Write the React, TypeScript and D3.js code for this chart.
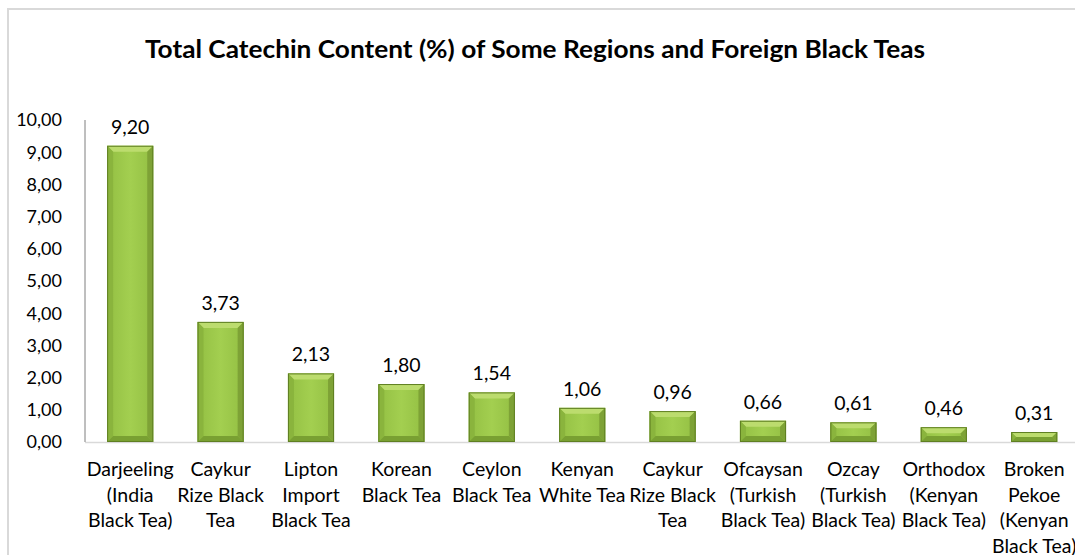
import React from "react";
import * as d3 from "d3";

const categories: string[][] = [
  ["Darjeeling", "(India", "Black Tea)"],
  ["Caykur", "Rize Black", "Tea"],
  ["Lipton", "Import", "Black Tea"],
  ["Korean", "Black Tea"],
  ["Ceylon", "Black Tea"],
  ["Kenyan", "White Tea"],
  ["Caykur", "Rize Black", "Tea"],
  ["Ofcaysan", "(Turkish", "Black Tea)"],
  ["Ozcay", "(Turkish", "Black Tea)"],
  ["Orthodox", "(Kenyan", "Black Tea)"],
  ["Broken", "Pekoe", "(Kenyan", "Black Tea)"],
];
const values: number[] = [9.2, 3.73, 2.13, 1.8, 1.54, 1.06, 0.96, 0.66, 0.61, 0.46, 0.31];
const yTicks: number[] = [0, 1, 2, 3, 4, 5, 6, 7, 8, 9, 10];
const title = "Total Catechin Content (%) of Some Regions and Foreign Black Teas";

const W = 1075;
const H = 555;
const FONT = "Lato, Calibri, 'Open Sans', sans-serif";
const fmt = (v: number) => v.toFixed(2).replace(".", ",");

export default function App() {
  const plotLeft = 85;
  const band = 90.4;
  const idx = values.map((_, i) => String(i));
  const x = d3.scaleBand<string>().domain(idx).range([plotLeft, plotLeft + band * values.length]).paddingInner(0.49).paddingOuter(0.245);
  const y = d3.scaleLinear().domain([0, 10]).range([442, 120]);
  const bw = x.bandwidth();

  return (
    <svg width={W} height={H} style={{ position: "absolute", left: 0, top: 0, background: "#fff" }}>
      <defs>
        <linearGradient id="barFill" x1="0" y1="0" x2="1" y2="0">
          <stop offset="0" stopColor="#93bf43" />
          <stop offset="0.5" stopColor="#a3cf50" />
          <stop offset="1" stopColor="#93bf43" />
        </linearGradient>
      </defs>
      {/* chart frame */}
      <line x1={8} y1={9} x2={W} y2={9} stroke="#d9d9d9" strokeWidth={2} />
      <line x1={8} y1={8} x2={8} y2={H} stroke="#d9d9d9" strokeWidth={2} />

      <text x={535} y={58} textAnchor="middle" fontFamily={FONT} fontWeight="bold" fontSize={25} fill="#000" textLength={780} lengthAdjust="spacingAndGlyphs">
        {title}
      </text>

      {/* y axis labels */}
      {yTicks.map((t) => (
        <text key={t} x={62} y={y(t)} dy="0.35em" textAnchor="end" fontFamily={FONT} fontSize={18} fill="#000">
          {fmt(t)}
        </text>
      ))}

      {/* x axis line */}
      <line x1={plotLeft} y1={y(0) + 0.5} x2={W} y2={y(0) + 0.5} stroke="#d9d9d9" strokeWidth={1.5} />

      {/* bars */}
      {values.map((v, i) => {
        const x0 = x(String(i))!;
        const x1 = x0 + bw;
        const y0 = y(v);
        const y1 = y(0);
        const h = y1 - y0;
        const b = Math.min(6, h / 2, bw / 2);
        return (
          <g key={i}>
            <rect x={x0} y={y0} width={bw} height={h} fill="url(#barFill)" />
            <polygon points={`${x0},${y0} ${x1},${y0} ${x1 - b},${y0 + b} ${x0 + b},${y0 + b}`} fill="#bcdc6e" />
            <polygon points={`${x0},${y0} ${x0 + b},${y0 + b} ${x0 + b},${y1 - b} ${x0},${y1}`} fill="#8ab43d" />
            <polygon points={`${x1},${y0} ${x1 - b},${y0 + b} ${x1 - b},${y1 - b} ${x1},${y1}`} fill="#7ea236" />
            <polygon points={`${x0},${y1} ${x0 + b},${y1 - b} ${x1 - b},${y1 - b} ${x1},${y1}`} fill="#79a032" />
            <rect x={x0 + 0.5} y={y0 + 0.5} width={bw - 1} height={h - 1} fill="none" stroke="#5f7f22" strokeWidth={1} />
            <text x={x0 + bw / 2} y={y0 - 12} textAnchor="middle" fontFamily={FONT} fontSize={19.5} fill="#000">
              {fmt(v)}
            </text>
          </g>
        );
      })}

      {/* y axis line */}
      <line x1={plotLeft} y1={y(10)} x2={plotLeft} y2={y(0)} stroke="#7f7f7f" strokeWidth={1} />

      {/* category labels */}
      {categories.map((lines, i) => (
        <text key={i} textAnchor="middle" fontFamily={FONT} fontSize={19.5} fill="#000">
          {lines.map((l, j) => (
            <tspan key={j} x={x(String(i))! + bw / 2} y={476 + j * 25.7}>
              {l}
            </tspan>
          ))}
        </text>
      ))}
    </svg>
  );
}
